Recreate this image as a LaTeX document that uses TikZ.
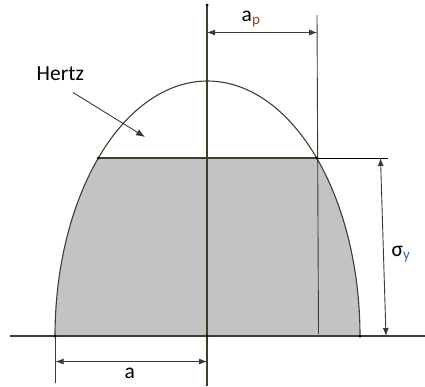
\documentclass[tikz,border=0pt]{standalone}
\usepackage{fontspec}
\setmainfont{Carlito}
\usetikzlibrary{arrows.meta}
\definecolor{curvecol}{HTML}{3E3E2C}
\definecolor{fillcol}{HTML}{C3C3C3}
\definecolor{dimcol}{HTML}{3A3A3A}
\definecolor{pcol}{HTML}{8A4B1E}
\definecolor{ycol}{HTML}{2A64B0}
\tikzset{
  curveline/.style={draw=curvecol, line width=1.1pt},
  thinline/.style={draw=dimcol, line width=0.9pt},
  dimarrow/.style={draw=dimcol, line width=0.9pt, {Latex[length=8pt,width=6pt]}-{Latex[length=8pt,width=6pt]}},
  ptr/.style={draw=dimcol, line width=0.9pt, -{Latex[length=9pt,width=7pt]}},
  dot/.style={circle, fill=black, inner sep=0pt, minimum size=3pt},
  lbl/.style={font=\fontsize{21.5}{25}\selectfont, inner sep=0pt}
}
\begin{document}
\begin{tikzpicture}[x=1pt,y=-1pt]
\useasboundingbox (0,0) rectangle (425,386);
% gray area
\begin{scope}
\clip (0,158) rectangle (425,336);
\fill[fillcol] plot[domain=0:180, samples=120] ({207.5+152.5*cos(\x)}, {336-255*sin(\x)}) -- cycle;
\end{scope}
% coordinates
\coordinate (axtop) at (207,5);
\coordinate (axbot) at (207,386);
\coordinate (origin) at (207,336);
\coordinate (bl) at (10,336);
\coordinate (br) at (425,336);
\coordinate (lfoot) at (55,336);
\coordinate (rfoot) at (360,336);
\coordinate (flatL) at (98.3,158);
\coordinate (flatR) at (316.7,158);
\coordinate (flatEnd) at (388,158);
\coordinate (vtop) at (317,15);
\coordinate (vbot) at (318.5,334);
\coordinate (aptL) at (207,32.5);
\coordinate (aptR) at (317.2,32.5);
\coordinate (sigT) at (380.5,158);
\coordinate (sigB) at (386,336);
\coordinate (adimTop) at (55,336);
\coordinate (adimBot) at (55,383);
\coordinate (aL) at (55.5,361.5);
\coordinate (aR) at (207,361.5);
\coordinate (hzS) at (73,92.5);
\coordinate (hzE) at (145,137);
% curve
\draw[curveline] plot[domain=0:180, samples=120] ({207.5+152.5*cos(\x)}, {336-255*sin(\x)});
% flat line and extension
\draw[curveline] (flatL) -- (flatR);
\draw[thinline, draw=black] (flatR) -- (flatEnd);
% axis and baseline
\draw[curveline] (axtop) -- (axbot);
\draw[curveline] (bl) -- (br);
% right vertical
\draw[thinline] (vtop) -- (vbot);
% dimension a
\draw[thinline] (adimTop) -- (adimBot);
\draw[dimarrow] (aL) -- (aR);
% dimension ap
\draw[dimarrow] (aptL) -- (aptR);
% sigma y
\draw[dimarrow] (sigT) -- (sigB);
% Hertz pointer
\draw[ptr] (hzS) -- (hzE);
% dots
\foreach \p in {axtop,origin,lfoot,rfoot,flatL,flatR} \node[dot] at (\p) {};
% labels
\node[lbl, anchor=base west] (hertz) at (36.5,80) {Hertz};
\node[lbl, anchor=base west] (ap) at (241.5,21) {a\textsubscript{\color{pcol}p}};
\node[lbl, anchor=base west] (sig) at (391.5,256) {σ\textsubscript{\color{ycol}y}};
\node[lbl, anchor=base west] (alab) at (124.5,378) {a};
\end{tikzpicture}
\end{document}
